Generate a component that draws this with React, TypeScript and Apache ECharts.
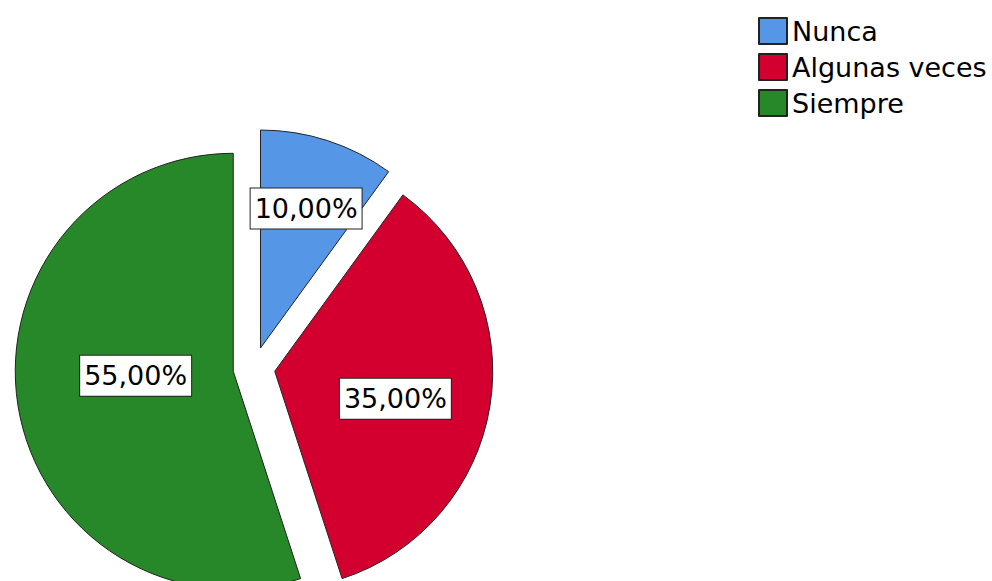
import React, { useEffect, useRef } from "react";
import * as echarts from "echarts";

const categories = ["Nunca", "Algunas veces", "Siempre"];
const values = [10, 35, 55];
const labels = ["10,00%", "35,00%", "55,00%"];
const colors = ["#5596e6", "#d3002f", "#268828"];
const labelShift = [
  [11, -33],
  [10, 10],
  [13, -13],
];

export default function App() {
  const ref = useRef<HTMLDivElement>(null);
  useEffect(() => {
    if (!ref.current) return;
    const chart = echarts.init(ref.current, undefined, { renderer: "svg" });
    chart.setOption({
      animation: false,
      backgroundColor: "#ffffff",
      legend: {
        orient: "vertical",
        left: 758,
        top: 17,
        padding: 0,
        icon: "rect",
        itemWidth: 28,
        itemHeight: 26,
        itemGap: 8,
        selectedMode: false,
        textStyle: {
          fontFamily: "DejaVu Sans",
          fontSize: 27,
          color: "#000",
        },
        data: categories,
      },
      series: [
        {
          type: "pie",
          center: [254, 368],
          radius: [0, 218],
          startAngle: 90,
          clockwise: true,
          selectedMode: "multiple",
          selectedOffset: 21,
          avoidLabelOverlap: false,
          itemStyle: { borderColor: "#222", borderWidth: 1 },
          emphasis: { disabled: true },
          label: {
            show: true,
            position: "inside",
            fontFamily: "DejaVu Sans",
            fontSize: 27,
            color: "#000",
            backgroundColor: "#fff",
            borderColor: "#222",
            borderWidth: 1,
            padding: [6, 4, 4, 4],
            lineHeight: 30,
            formatter: (p: any) => labels[p.dataIndex],
          },
          labelLine: { show: false },
          labelLayout: (p: any) => ({
            dx: labelShift[p.dataIndex][0],
            dy: labelShift[p.dataIndex][1],
          }),
          data: categories.map((name, i) => ({
            name,
            value: values[i],
            selected: true,
            itemStyle: { color: colors[i] },
          })),
        },
      ],
    });
    return () => chart.dispose();
  }, []);
  return (
    <div
      ref={ref}
      style={{ position: "fixed", left: 0, top: 0, width: 992, height: 581 }}
    />
  );
}
